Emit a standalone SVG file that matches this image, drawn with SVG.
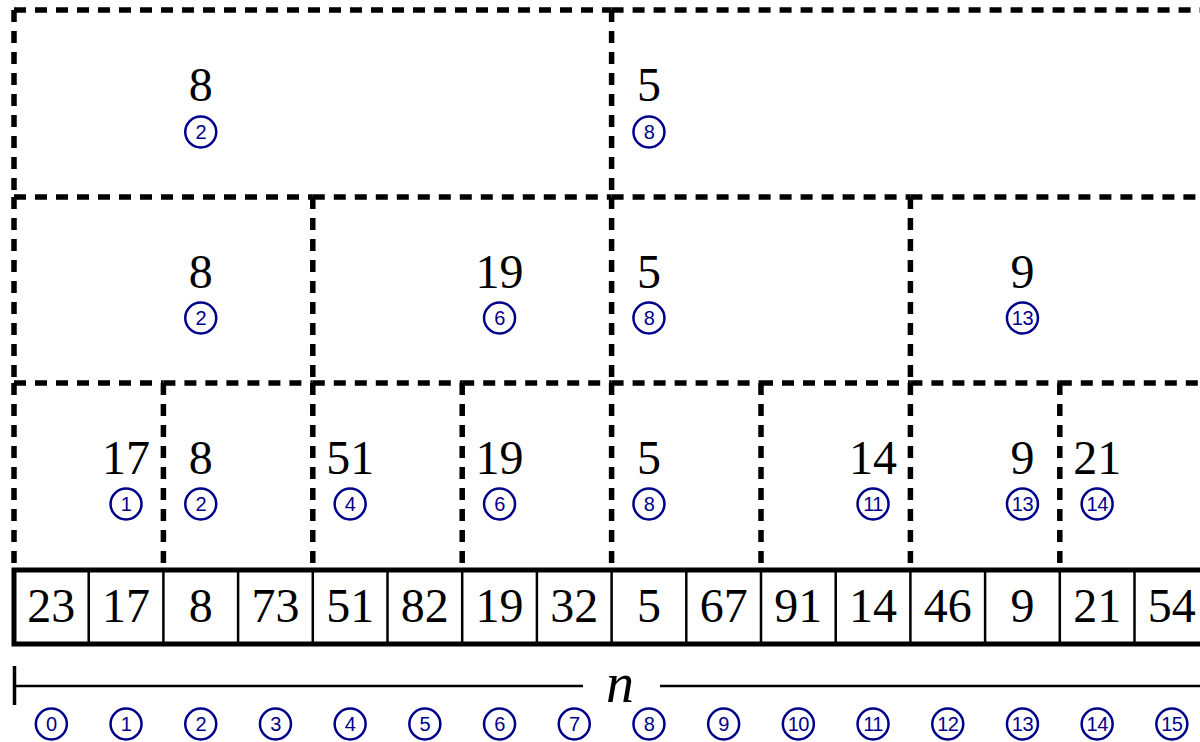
<svg xmlns="http://www.w3.org/2000/svg" width="1200" height="742" viewBox="0 0 1200 742">
<style>
.dash{stroke:#000;stroke-width:5.5;stroke-dasharray:12 9;fill:none}
.val{font-family:"Liberation Serif","DejaVu Serif",serif;font-size:48px;text-anchor:middle;fill:#000}
.idx{fill:none;stroke:#00008B;stroke-width:2.5}
.idt{font-family:"Liberation Sans","DejaVu Sans",sans-serif;font-size:20px;text-anchor:middle;fill:#00008B;letter-spacing:-0.5px}
.thin{stroke:#000;stroke-width:2.5}
</style>
<rect width="1200" height="742" fill="#fff"/>
<!-- level 1 -->
<g id="l1-0"><path class="dash" d="M14 10H611.6M14 10V197"/><text class="val" x="200.75" y="101">8</text><circle class="idx" cx="200.75" cy="132" r="15.5"/><text class="idt" x="200.75" y="139">2</text></g>
<g id="l1-1"><path class="dash" d="M611.6 10H1209.2M611.6 10V197"/><text class="val" x="648.95" y="101">5</text><circle class="idx" cx="648.95" cy="132" r="15.5"/><text class="idt" x="648.95" y="139">8</text></g>
<!-- level 2 -->
<g id="l2-0"><path class="dash" d="M14 197H312.8M14 197V383"/><text class="val" x="200.75" y="288">8</text><circle class="idx" cx="200.75" cy="318" r="15.5"/><text class="idt" x="200.75" y="325">2</text></g>
<g id="l2-1"><path class="dash" d="M312.8 197H611.6M312.8 197V383"/><text class="val" x="499.55" y="288">19</text><circle class="idx" cx="499.55" cy="318" r="15.5"/><text class="idt" x="499.55" y="325">6</text></g>
<g id="l2-2"><path class="dash" d="M611.6 197H910.4M611.6 197V383"/><text class="val" x="648.95" y="288">5</text><circle class="idx" cx="648.95" cy="318" r="15.5"/><text class="idt" x="648.95" y="325">8</text></g>
<g id="l2-3"><path class="dash" d="M910.4 197H1209.2M910.4 197V383"/><text class="val" x="1022.45" y="288">9</text><circle class="idx" cx="1022.45" cy="318" r="15.5"/><text class="idt" x="1022.45" y="325">13</text></g>
<!-- level 3 -->
<g id="l3-0"><path class="dash" d="M14 383H163.4M14 383V568"/><text class="val" x="126.05" y="474">17</text><circle class="idx" cx="126.05" cy="504" r="15.5"/><text class="idt" x="126.05" y="511">1</text></g>
<g id="l3-1"><path class="dash" d="M163.4 383H312.8M163.4 383V568"/><text class="val" x="200.75" y="474">8</text><circle class="idx" cx="200.75" cy="504" r="15.5"/><text class="idt" x="200.75" y="511">2</text></g>
<g id="l3-2"><path class="dash" d="M312.8 383H462.2M312.8 383V568"/><text class="val" x="350.15" y="474">51</text><circle class="idx" cx="350.15" cy="504" r="15.5"/><text class="idt" x="350.15" y="511">4</text></g>
<g id="l3-3"><path class="dash" d="M462.2 383H611.6M462.2 383V568"/><text class="val" x="499.55" y="474">19</text><circle class="idx" cx="499.55" cy="504" r="15.5"/><text class="idt" x="499.55" y="511">6</text></g>
<g id="l3-4"><path class="dash" d="M611.6 383H761M611.6 383V568"/><text class="val" x="648.95" y="474">5</text><circle class="idx" cx="648.95" cy="504" r="15.5"/><text class="idt" x="648.95" y="511">8</text></g>
<g id="l3-5"><path class="dash" d="M761 383H910.4M761 383V568"/><text class="val" x="873.05" y="474">14</text><circle class="idx" cx="873.05" cy="504" r="15.5"/><text class="idt" x="873.05" y="511">11</text></g>
<g id="l3-6"><path class="dash" d="M910.4 383H1059.8M910.4 383V568"/><text class="val" x="1022.45" y="474">9</text><circle class="idx" cx="1022.45" cy="504" r="15.5"/><text class="idt" x="1022.45" y="511">13</text></g>
<g id="l3-7"><path class="dash" d="M1059.8 383H1209.2M1059.8 383V568"/><text class="val" x="1097.15" y="474">21</text><circle class="idx" cx="1097.15" cy="504" r="15.5"/><text class="idt" x="1097.15" y="511">14</text></g>
<!-- array -->
<g id="array">
<path class="thin" d="M88.7 570V644M163.4 570V644M238.1 570V644M312.8 570V644M387.5 570V644M462.2 570V644M536.9 570V644M611.6 570V644M686.3 570V644M761 570V644M835.7 570V644M910.4 570V644M985.1 570V644M1059.8 570V644M1134.5 570V644"/>
<rect x="14" y="570" width="1195.2" height="74" fill="none" stroke="#000" stroke-width="5"/>
<text class="val" x="51.35" y="622">23</text><text class="val" x="126.05" y="622">17</text><text class="val" x="200.75" y="622">8</text><text class="val" x="275.45" y="622">73</text><text class="val" x="350.15" y="622">51</text><text class="val" x="424.85" y="622">82</text><text class="val" x="499.55" y="622">19</text><text class="val" x="574.25" y="622">32</text><text class="val" x="648.95" y="622">5</text><text class="val" x="723.65" y="622">67</text><text class="val" x="798.35" y="622">91</text><text class="val" x="873.05" y="622">14</text><text class="val" x="947.75" y="622">46</text><text class="val" x="1022.45" y="622">9</text><text class="val" x="1097.15" y="622">21</text><text class="val" x="1171.85" y="622">54</text>
</g>
<!-- ruler -->
<g id="ruler">
<path class="thin" d="M14 686H583M660 686H1209"/>
<path stroke="#000" stroke-width="3.5" d="M14.5 666V705"/>
<text x="620" y="702" font-family="Liberation Serif,DejaVu Serif,serif" font-style="italic" font-size="56" text-anchor="middle">n</text>
</g>
<g id="indices">
<circle class="idx" cx="51.35" cy="724" r="15.5"/><text class="idt" x="51.35" y="731">0</text>
<circle class="idx" cx="126.05" cy="724" r="15.5"/><text class="idt" x="126.05" y="731">1</text>
<circle class="idx" cx="200.75" cy="724" r="15.5"/><text class="idt" x="200.75" y="731">2</text>
<circle class="idx" cx="275.45" cy="724" r="15.5"/><text class="idt" x="275.45" y="731">3</text>
<circle class="idx" cx="350.15" cy="724" r="15.5"/><text class="idt" x="350.15" y="731">4</text>
<circle class="idx" cx="424.85" cy="724" r="15.5"/><text class="idt" x="424.85" y="731">5</text>
<circle class="idx" cx="499.55" cy="724" r="15.5"/><text class="idt" x="499.55" y="731">6</text>
<circle class="idx" cx="574.25" cy="724" r="15.5"/><text class="idt" x="574.25" y="731">7</text>
<circle class="idx" cx="648.95" cy="724" r="15.5"/><text class="idt" x="648.95" y="731">8</text>
<circle class="idx" cx="723.65" cy="724" r="15.5"/><text class="idt" x="723.65" y="731">9</text>
<circle class="idx" cx="798.35" cy="724" r="15.5"/><text class="idt" x="798.35" y="731">10</text>
<circle class="idx" cx="873.05" cy="724" r="15.5"/><text class="idt" x="873.05" y="731">11</text>
<circle class="idx" cx="947.75" cy="724" r="15.5"/><text class="idt" x="947.75" y="731">12</text>
<circle class="idx" cx="1022.45" cy="724" r="15.5"/><text class="idt" x="1022.45" y="731">13</text>
<circle class="idx" cx="1097.15" cy="724" r="15.5"/><text class="idt" x="1097.15" y="731">14</text>
<circle class="idx" cx="1171.85" cy="724" r="15.5"/><text class="idt" x="1171.85" y="731">15</text>
</g>
</svg>
